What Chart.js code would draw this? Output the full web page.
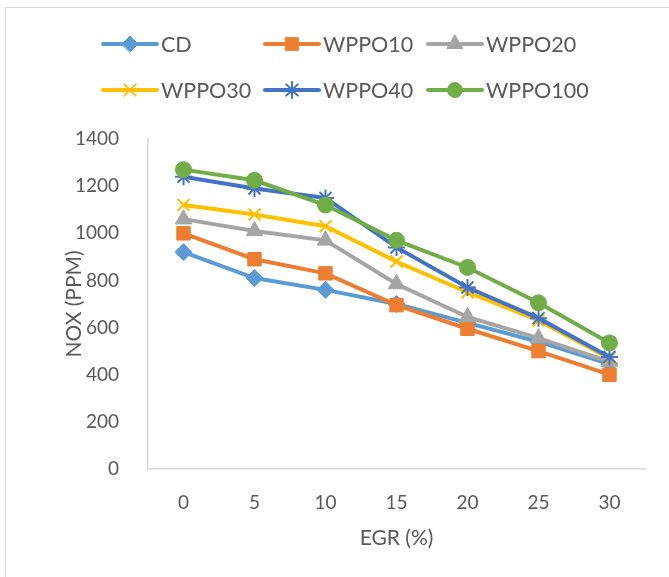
<!DOCTYPE html>
<html>
<head>
<meta charset="utf-8">
<script src="https://cdn.jsdelivr.net/npm/chart.js@4/dist/chart.umd.min.js"></script>
<style>
  html, body { margin: 0; padding: 0; background: #fff; overflow: hidden; }
  #wrap { position: relative; width: 669px; height: 577px; }
  #frame { position: absolute; left: 5px; top: 7px; width: 700px; height: 620px; border: 1px solid #d9d9d9; box-sizing: border-box; }
  canvas { position: absolute; left: 0; top: 0; }
</style>
</head>
<body>
<div id="wrap">
  <div id="frame"></div>
  <canvas id="nox" width="669" height="577"></canvas>
</div>
<script>
// --- chart data ---
const egrLabels = ['0', '5', '10', '15', '20', '25', '30'];
const cd      = [920, 810, 760, 700, 620, 540, 445];
const wppo10  = [1000, 890, 830, 695, 595, 500, 400];
const wppo20  = [1060, 1010, 970, 785, 645, 555, 455];
const wppo30  = [1120, 1080, 1030, 880, 750, 630, 470];
const wppo40  = [1240, 1190, 1150, 940, 770, 640, 475];
const wppo100 = [1270, 1225, 1120, 970, 855, 705, 535];
const yTicks  = [0, 200, 400, 600, 800, 1000, 1200, 1400];

const seriesNames = ['CD', 'WPPO10', 'WPPO20', 'WPPO30', 'WPPO40', 'WPPO100'];
const seriesData = [cd, wppo10, wppo20, wppo30, wppo40, wppo100];
const colors = ['#5B9BD5', '#ED7D31', '#A5A5A5', '#FFC000', '#4472C4', '#70AD47'];
const markers = ['rectRot', 'rect', 'triangle', 'crossRot', 'star', 'circle'];
const markerSize = [8.5, 9.5, 9.5, 8.5, 8.5, 8];

const FONT = 'Lato, "Open Sans", sans-serif';
const TEXT = '#595959';

const datasets = seriesNames.map(function(name, i) {
    const cross = markers[i] === 'crossRot' || markers[i] === 'star';
    return {
        label: name,
        data: seriesData[i],
        borderColor: colors[i],
        backgroundColor: colors[i],
        borderWidth: 4,
        pointStyle: markers[i],
        pointRadius: markerSize[i],
        pointHoverRadius: markerSize[i],
        pointBorderWidth: cross ? 2 : 1,
        pointBorderColor: colors[i],
        pointBackgroundColor: colors[i],
        tension: 0,
        order: seriesNames.length - i
    };
});

// legend drawn as a 3 x 2 grid like the original
const gridLegend = {
    id: 'gridLegend',
    afterDraw(chart) {
        const ctx = chart.ctx;
        const cols = [103, 265, 428];
        const rows = [44, 90];
        ctx.save();
        chart.data.datasets.forEach(function(ds, i) {
            const x = cols[i % 3];
            const y = rows[Math.floor(i / 3)];
            ctx.strokeStyle = ds.borderColor;
            ctx.lineWidth = 4;
            ctx.lineCap = 'round';
            ctx.beginPath();
            ctx.moveTo(x, y);
            ctx.lineTo(x + 54, y);
            ctx.stroke();
            ctx.fillStyle = ds.backgroundColor;
            ctx.lineWidth = ds.pointBorderWidth;
            Chart.helpers.drawPoint(ctx, {
                pointStyle: ds.pointStyle,
                radius: ds.pointRadius - 0.5,
                rotation: 0,
                borderWidth: ds.pointBorderWidth
            }, x + 27, y);
            ctx.fillStyle = TEXT;
            ctx.font = '21.5px ' + FONT;
            ctx.textBaseline = 'middle';
            ctx.textAlign = 'left';
            ctx.fillText(ds.label, x + 58, y + 1);
        });
        ctx.restore();
    }
};

new Chart(document.getElementById('nox'), {
    type: 'line',
    data: { labels: egrLabels, datasets: datasets },
    plugins: [gridLegend],
    options: {
        responsive: false,
        animation: false,
        layout: { padding: { top: 139, right: 24, bottom: 0, left: 0 } },
        plugins: {
            legend: { display: false },
            tooltip: { enabled: false }
        },
        scales: {
            x: {
                offset: true,
                grid: { display: false, offset: true },
                border: { display: true, color: '#d9d9d9', width: 1.5 },
                ticks: { color: TEXT, font: { family: FONT, size: 19 }, padding: 14 },
                title: {
                    display: true, text: 'EGR (%)', color: TEXT,
                    font: { family: FONT, size: 21 }, padding: { top: 0, bottom: 26 }
                },
                afterFit(scale) { scale.height = 108; }
            },
            y: {
                min: 0, max: 1400,
                afterBuildTicks(scale) { scale.ticks = yTicks.map(v => ({ value: v })); },
                grid: { display: false },
                border: { display: true, color: '#d9d9d9', width: 1.5 },
                ticks: {
                    color: TEXT, font: { family: FONT, size: 19 }, padding: 21,
                    callback: v => String(v)
                },
                title: {
                    display: true, text: 'NOX (PPM)', color: TEXT,
                    font: { family: FONT, size: 21 }, padding: { top: 62, bottom: 0 }
                },
                afterFit(scale) { scale.width = 148; }
            }
        }
    }
});
</script>
</body>
</html>
